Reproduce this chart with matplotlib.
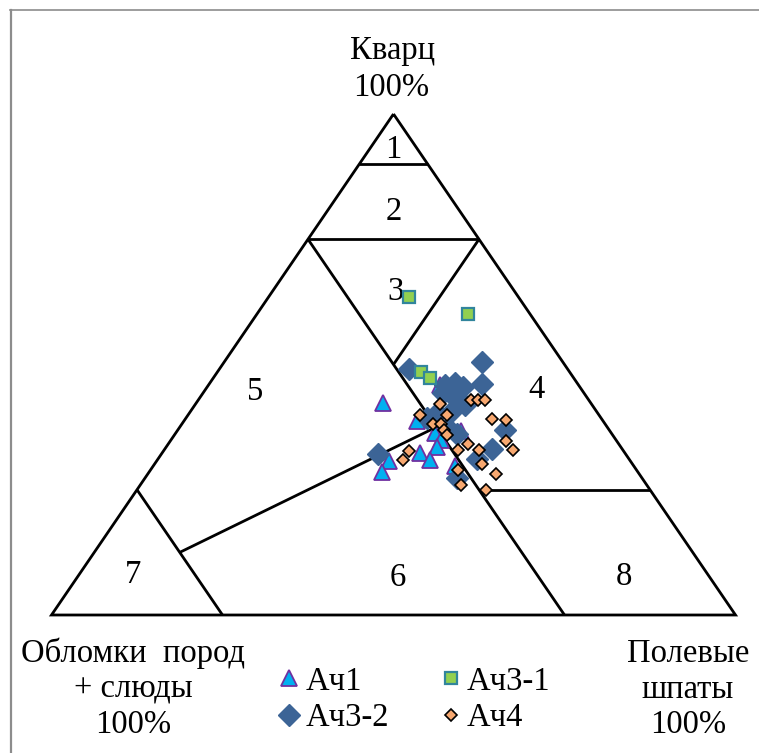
import matplotlib
matplotlib.use("Agg")
import matplotlib.pyplot as plt
from matplotlib.lines import Line2D

plt.rcParams["font.family"] = ["Liberation Serif", "DejaVu Serif"]

# Sandstone composition, % (quartz Q, feldspar F; rock fragments + micas = 100 - Q - F)
ach1_q = [42.3, 45.9, 38.7, 36.3, 34.9, 33.5, 36.7, 30.7, 28.5, 32.3, 30.9, 29.7]
ach1_f = [27.3, 33.8, 34.1, 37.9, 39.5, 39.6, 41.5, 34.0, 34.1, 37.7, 39.9, 44.1]

ach31_q = [63.5, 60.1, 48.5, 47.3]
ach31_f = [20.5, 30.8, 29.8, 31.7]

ach32_q = [49.1, 50.5, 46.1, 45.9, 46.3, 45.5, 44.3, 42.9, 41.9, 40.9,
           39.3, 40.3, 36.1, 36.9, 33.1, 31.1, 32.1, 27.3, 37.3]
ach32_f = [27.7, 37.7, 39.9, 34.6, 35.8, 37.4, 35.1, 37.8, 39.5, 38.3,
           35.2, 36.2, 41.2, 47.8, 47.9, 46.7, 31.7, 45.6, 39.3]

ach4_q = [39.9, 42.1, 39.9, 38.1, 38.1, 36.9, 35.9, 42.9, 42.9, 42.9, 39.1, 38.9,
          34.7, 32.9, 32.7, 30.9, 32.9, 34.1, 32.9, 30.1, 28.1, 28.9, 25.9, 25.0]
ach4_f = [33.9, 35.8, 37.9, 36.7, 37.9, 38.9, 39.9, 39.9, 40.9, 41.9, 44.8, 47.0,
          49.1, 51.0, 35.9, 35.9, 43.0, 43.8, 46.0, 47.9, 50.9, 45.0, 46.9, 51.0]

series_names = ["Ач1", "Ач3-1", "Ач3-2", "Ач4"]

# Field boundaries of the classification triangle, as (Q, F) end points
outline = [(100, 0), (0, 0), (0, 100), (100, 0)]
boundaries = [
    [(90, 0), (90, 10)],
    [(75, 0), (75, 25)],
    [(75, 0), (0, 75)],
    [(75, 25), (50, 25)],
    [(25, 75), (25, 50)],
    [(25, 0), (0, 25)],
    [(12.5, 12.5), (37.5, 37.5)],
]

# Field numbers and their (Q, F) anchor points
field_labels = ["1", "2", "3", "4", "5", "6", "7", "8"]
field_q = [92.8, 80.5, 64.5, 44.9, 44.5, 7.4, 8.0, 7.6]
field_f = [3.5, 9.8, 18.0, 48.4, 7.5, 47.0, 7.9, 79.9]

FS = 23.5


def to_xy(q, f):
    """Ternary (Q, F, R) -> Cartesian: quartz at the apex, feldspar at lower right."""
    if isinstance(q, (list, tuple)):
        return [fi + qi / 2 for qi, fi in zip(q, f)], list(q)
    return f + q / 2, q


W, H = 759, 753
fig = plt.figure(figsize=(W / 100, H / 100), dpi=100)
ax = fig.add_axes([51.5 / W, (H - 615) / H, 684 / W, 501 / H])
ax.set_xlim(0, 100)
ax.set_ylim(0, 100)
ax.axis("off")

line_kw = dict(color="black", lw=2.0, solid_capstyle="butt", clip_on=False, zorder=2)
ox, oy = zip(*[to_xy(q, f) for q, f in outline])
ax.plot(ox, oy, solid_joinstyle="miter", **line_kw)
for seg in boundaries:
    sx, sy = zip(*[to_xy(q, f) for q, f in seg])
    ax.plot(sx, sy, **line_kw)

for lab, q, f in zip(field_labels, field_q, field_f):
    x, y = to_xy(q, f)
    ax.text(x, y, lab, fontsize=FS, ha="center", va="center", zorder=1)

x, y = to_xy(ach1_q, ach1_f)
h1, = ax.plot(x, y, ls="none", marker="^", ms=11, mfc="#00b0f0", mec="#7030a0",
              mew=1.3, zorder=3, clip_on=False)
x, y = to_xy(ach32_q, ach32_f)
h32, = ax.plot(x, y, ls="none", marker="D", ms=11.5, mfc="#3c6496", mec="#3c6496",
               mew=1, zorder=4, clip_on=False)
x, y = to_xy(ach31_q, ach31_f)
h31, = ax.plot(x, y, ls="none", marker="s", ms=8.5, mfc="#92d050", mec="#31859c",
               mew=1.6, zorder=5, clip_on=False)
x, y = to_xy(ach4_q, ach4_f)
h4, = ax.plot(x, y, ls="none", marker="D", ms=6.3, mfc="#f7a870", mec="black",
              mew=1.2, zorder=6, clip_on=False)

leg = fig.legend([h1, h32, h31, h4],
                 [series_names[0], series_names[2], series_names[1], series_names[3]],
                 ncol=2, frameon=False, fontsize=FS,
                 loc="upper left", bbox_to_anchor=(281 / W, 1 - 666 / H),
                 borderpad=0, borderaxespad=0, handlelength=0.5,
                 handletextpad=0.24, columnspacing=1.65, labelspacing=0.19)

# Vertex captions
def ftext(px, py, s):
    fig.text(px / W, 1 - py / H, s, fontsize=FS, ha="center", va="baseline")

ftext(393, 59, "Кварц")
ftext(391, 96, "100%")
ftext(133, 662, "Обломки  пород")
ftext(133, 698, "+ слюды")
ftext(133, 733, "100%")
ftext(688, 662, "Полевые")
ftext(688, 698, "шпаты")
ftext(688, 733, "100%")

# Chart area border (left and top edges)
fig.add_artist(Line2D([11 / W, 11 / W], [0, 1 - 9.5 / H], transform=fig.transFigure,
                      color="#8c8c8c", lw=1.6))
fig.add_artist(Line2D([10.4 / W, 1], [1 - 9.5 / H, 1 - 9.5 / H], transform=fig.transFigure,
                      color="#8c8c8c", lw=1.2))

fig.savefig("out.png", dpi=100)
